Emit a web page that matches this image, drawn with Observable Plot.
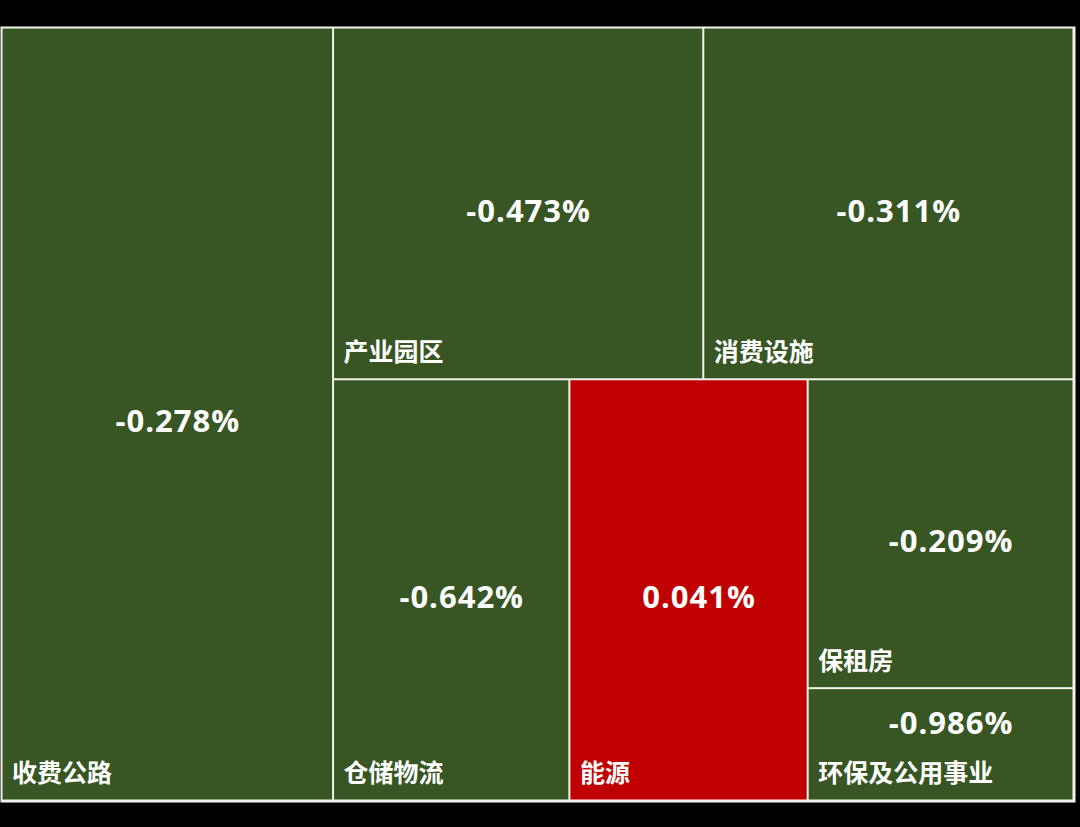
<!DOCTYPE html>
<html>
<head>
<meta charset="utf-8">
<script src="https://cdn.jsdelivr.net/npm/d3@7"></script>
<script src="https://cdn.jsdelivr.net/npm/@observablehq/plot@0.6"></script>
<style>
  html, body { margin: 0; padding: 0; background: #000; }
  #chart svg { display: block; }
</style>
</head>
<body>
<div id="chart"></div>
<script>
// Categories (板块), their daily change (%) and relative weight (tile area)
const categories = ["收费公路", "产业园区", "消费设施", "仓储物流", "能源", "保租房", "环保及公用事业"];
const changes    = [-0.278, -0.473, -0.311, -0.642, 0.041, -0.209, -0.986];
const weights    = [30.9, 15.7, 15.7, 12.0, 12.1, 9.9, 3.6];
// Grouping of the tiles in the treemap (nesting only)
const groupPaths = ["", "其余/上排", "其余/上排", "其余/下排", "其余/下排", "其余/下排/右列", "其余/下排/右列"];

const table = categories.map((name, i) => ({
  name,
  change: changes[i],
  weight: weights[i],
  path: "/" + (groupPaths[i] ? groupPaths[i] + "/" : "") + name
}));

const root = d3.stratify().path(d => d.path)(table);
root.sum(d => (d && d.weight) || 0);
d3.treemap().tile(d3.treemapSliceDice).size([1, 1]).round(false)(root);

const tiles = root.leaves().map(n => ({
  name: n.data.name,
  change: n.data.change,
  x0: n.x0, x1: n.x1, y0: n.y0, y1: n.y1,
  cx: (n.x0 + n.x1) / 2,
  vy: Math.min((n.y0 + n.y1) / 2, n.y1 - 0.11),
  sign: n.data.change >= 0 ? "涨" : "跌",
  label: n.data.change.toFixed(3) + "%"
}));

const chart = Plot.plot({
  width: 1080,
  height: 827,
  marginLeft: 0,
  marginRight: 5,
  marginTop: 26,
  marginBottom: 25,
  style: { background: "#000" },
  x: { domain: [0, 1], axis: null, inset: 1.5 },
  y: { domain: [0, 1], axis: null, reverse: true, inset: 1.5 },
  color: { domain: ["涨", "跌"], range: ["#C00000", "#375623"] },
  marks: [
    Plot.frame({ fill: "#f4f4ee", stroke: null }),
    Plot.rect(tiles, { x1: "x0", x2: "x1", y1: "y0", y2: "y1", fill: "sign", inset: 1 }),
    Plot.text(tiles, {
      x: "cx", y: "vy", text: "label", fill: "white",
      fontFamily: "'Open Sans', sans-serif", fontWeight: "bold", fontSize: 31,
      dx: 10, dy: 8
    }),
    Plot.text(tiles, {
      x: "x0", y: "y1", text: "name", fill: "white",
      fontFamily: "'Noto Sans CJK SC', sans-serif", fontWeight: "bold", fontSize: 25,
      textAnchor: "start", lineAnchor: "middle", dx: 10, dy: -27
    })
  ]
});
chart.querySelectorAll("text").forEach(t => { if (/%$/.test(t.textContent)) t.setAttribute("letter-spacing", "1"); });
document.getElementById("chart").appendChild(chart);
</script>
</body>
</html>
